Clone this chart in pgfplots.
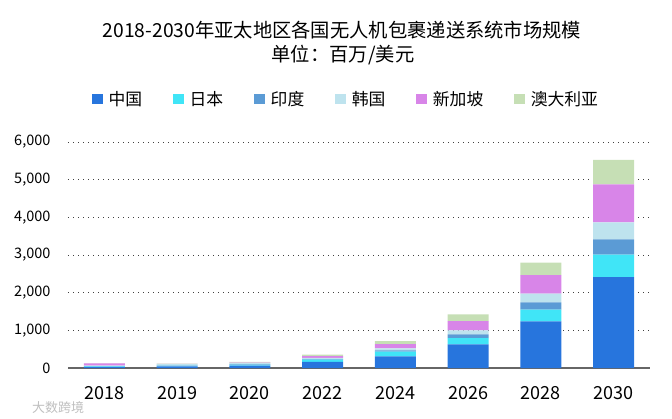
\documentclass[border=0pt]{standalone}
\usepackage{fontspec}
\setmainfont{Noto Sans CJK SC}
\usepackage{pgfplots}
\pgfplotsset{compat=1.18}
\usepackage{pgfplotstable}
\definecolor{cChina}{HTML}{2775DD}
\definecolor{cJapan}{HTML}{40E5F7}
\definecolor{cIndia}{HTML}{5B9BD5}
\definecolor{cKorea}{HTML}{BEE3EE}
\definecolor{cSing}{HTML}{D885E8}
\definecolor{cAus}{HTML}{C6DFB5}
\pgfplotstableread{
pos China Japan India Korea Sing Aus
0 30 10 5 15 62 10
1 45 12 8 40 5 7
2 60 25 10 35 15 20
3 160 60 16 35 45 40
4 310 125 35 53 114 79
5 629 167 98 106 247 177
6 1239 310 194 230 494 329
7 2414 594 406 451 1008 655
}\datatable
\begin{document}
\begin{tikzpicture}[x=1pt,y=1pt]
\path[use as bounding box] (0,0) rectangle (672,418);
\node[font=\fontsize{19.3}{23}\selectfont, inner sep=0pt] at (342,388) {2018-2030年亚太地区各国无人机包裹递送系统市场规模};
\node[font=\fontsize{19.3}{23}\selectfont, inner sep=0pt] at (343,363) {单位：百万/美元};
\node[font=\fontsize{13}{15}\selectfont, text=black!25, inner sep=0pt] at (58,10) {大数跨境};
\begin{axis}[
  at={(68pt,50pt)}, anchor=south west,
  scale only axis, width=582pt, height=226pt,
  ybar stacked, bar width=41pt,
  xmin=-0.5, xmax=7.5, ymin=0, ymax=6000,
  enlargelimits=false,
  xtick=data,
  xticklabels={2018,2019,2020,2022,2024,2026,2028,2030},
  ytick={0,1000,...,6000},
  axis x line*=bottom, axis y line*=left,
  y axis line style={draw=none},
  x axis line style={draw=black!60, line width=1.6pt},
  major tick length=0pt,
  ymajorgrids,
  grid style={black!75, line width=0.8pt, dash pattern=on 1pt off 4pt},
  yticklabel style={font=\fontsize{14.5}{16}\selectfont, anchor=east, xshift=-14pt},
  xticklabel style={font=\fontsize{18}{20}\selectfont, anchor=north, yshift=-15pt},
  /pgf/number format/.cd, 1000 sep={,}, assume math mode=true,
  /pgfplots/.cd,
  legend columns=-1,
  legend style={draw=none, fill=none, at={(0.4777,1.190)}, anchor=center,
    font=\fontsize{16.8}{19}\selectfont,
    /tikz/every odd column/.append style={column sep=4pt},
    /tikz/every even column/.append style={column sep=29pt}},
  legend image code/.code={\fill[#1] (0pt,-5.25pt) rectangle (10.5pt,5.25pt);},
]
\addplot[fill=cChina, draw=none] table[x=pos,y=China]{\datatable};
\addplot[fill=cJapan, draw=none] table[x=pos,y=Japan]{\datatable};
\addplot[fill=cIndia, draw=none] table[x=pos,y=India]{\datatable};
\addplot[fill=cKorea, draw=none] table[x=pos,y=Korea]{\datatable};
\addplot[fill=cSing, draw=none] table[x=pos,y=Sing]{\datatable};
\addplot[fill=cAus, draw=none] table[x=pos,y=Aus]{\datatable};
\legend{中国,日本,印度,韩国,新加坡,澳大利亚}
\end{axis}
\end{tikzpicture}
\end{document}
